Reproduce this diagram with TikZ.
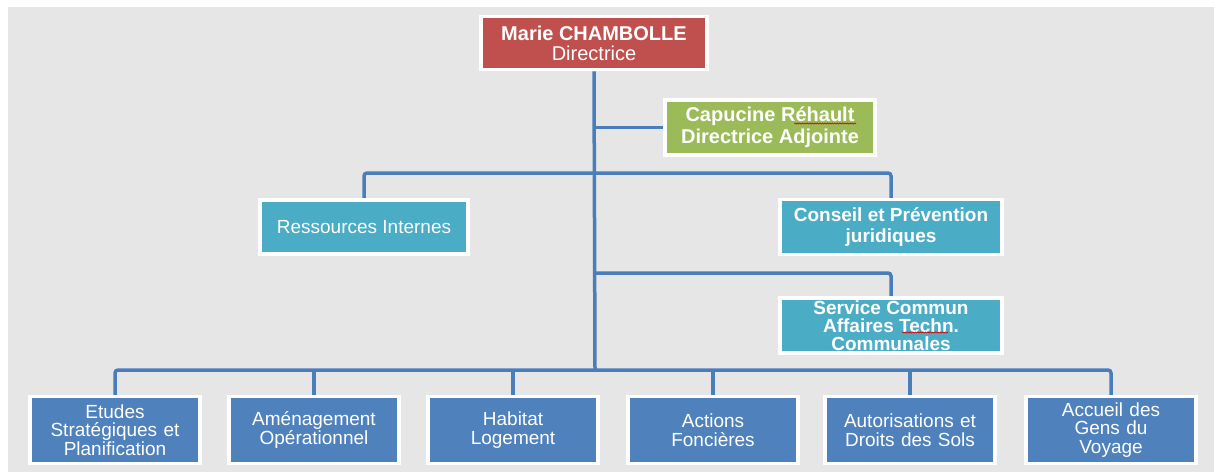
\documentclass[tikz,border=0pt]{standalone}
\usepackage{fontspec}
\setmainfont{Liberation Sans}
\usetikzlibrary{shadows,decorations.pathmorphing,backgrounds,calc}
\definecolor{bgc}{HTML}{E6E6E6}
\definecolor{redc}{HTML}{C0504D}
\definecolor{greenc}{HTML}{9BBB59}
\definecolor{tealc}{HTML}{4BACC6}
\definecolor{bluec}{HTML}{4F81BD}
\definecolor{linec}{HTML}{4A7EBB}
\tikzset{
  box/.style={draw=white, line width=3.5pt, text=white, align=center, inner sep=2pt,
    drop shadow={opacity=0.3, shadow xshift=1pt, shadow yshift=-1.5pt}},
  topbox/.style={box, fill=redc, minimum width=226pt, minimum height=53pt, font=\fontsize{20}{20}\selectfont},
  adjbox/.style={box, fill=greenc, minimum width=210pt, minimum height=55pt, font=\bfseries\fontsize{20}{22}\selectfont},
  midbox/.style={box, fill=tealc, minimum width=222pt, minimum height=55pt, font=\bfseries\fontsize{19}{21}\selectfont},
  lowbox/.style={box, fill=bluec, minimum width=170pt, minimum height=67pt, text width=166pt, font=\fontsize{19}{18.5}\selectfont},
  link/.style={draw=linec, line width=3.5pt, rounded corners=3pt},
  spell/.style={draw=red!85!black, line width=0.6pt, decorate, decoration={snake, amplitude=0.6pt, segment length=2.5pt}}
}
\begin{document}
\begin{tikzpicture}[x=1pt,y=-1pt]
\useasboundingbox (0,0) rectangle (1214,475);

\coordinate (b1) at (595,173);
\coordinate (b2) at (595,273);
\coordinate (b3) at (595,370);

\node[topbox] (marie) at (594,43) {\textbf{Marie CHAMBOLLE}\\Directrice};
\node[adjbox] (cap) at (770,127.5) {Capucine Réhault\\Directrice Adjointe};
\node[midbox, font=\fontsize{19}{21}\selectfont, minimum width=208pt, minimum height=54pt] (res) at (364,227) {Ressources Internes};
\node[midbox] (cons) at (891,227) {Conseil et Prévention\\juridiques};
\node[midbox, font=\bfseries\fontsize{19}{18}\selectfont] (serv) at (891,325.5) {Service Commun\\Affaires Techn.\\Communales};

\node[lowbox] (l1) at (115,430) {Etudes\\Stratégiques et\\Planification};
\node[lowbox] (l2) at (314,430) {Aménagement\\Opérationnel};
\node[lowbox] (l3) at (513,430) {Habitat\\Logement};
\node[lowbox] (l4) at (713,430) {Actions\\Foncières};
\node[lowbox] (l5) at (910,430) {Autorisations et\\Droits des Sols};
\node[lowbox] (l6) at (1111,430) {Accueil des\\Gens du\\Voyage};

\begin{scope}[on background layer]
\fill[white] (0,0) rectangle (1214,475);
\fill[bgc] (8,7) rectangle (1214,472);
\draw[link] (marie.south) -- (b3);
\draw[link] (marie.south |- cap.west) -- (cap.west);
\draw[link] (res.north) |- (b1) -| (cons.north);
\draw[link] (b2) -| (serv.north);
\draw[link] (l1.north) |- (b3) -| (l6.north);
\draw[link] (l2.north) -- (l2.north |- b3);
\draw[link] (l3.north) -- (l3.north |- b3);
\draw[link] (l4.north) -- (l4.north |- b3);
\draw[link] (l5.north) -- (l5.north |- b3);
\end{scope}

\draw[spell] ($(cap.center)+(24,-4)$) -- ++(62,0);
\draw[spell] ($(serv.center)+(11,7)$) -- ++(46,0);
\end{tikzpicture}
\end{document}
